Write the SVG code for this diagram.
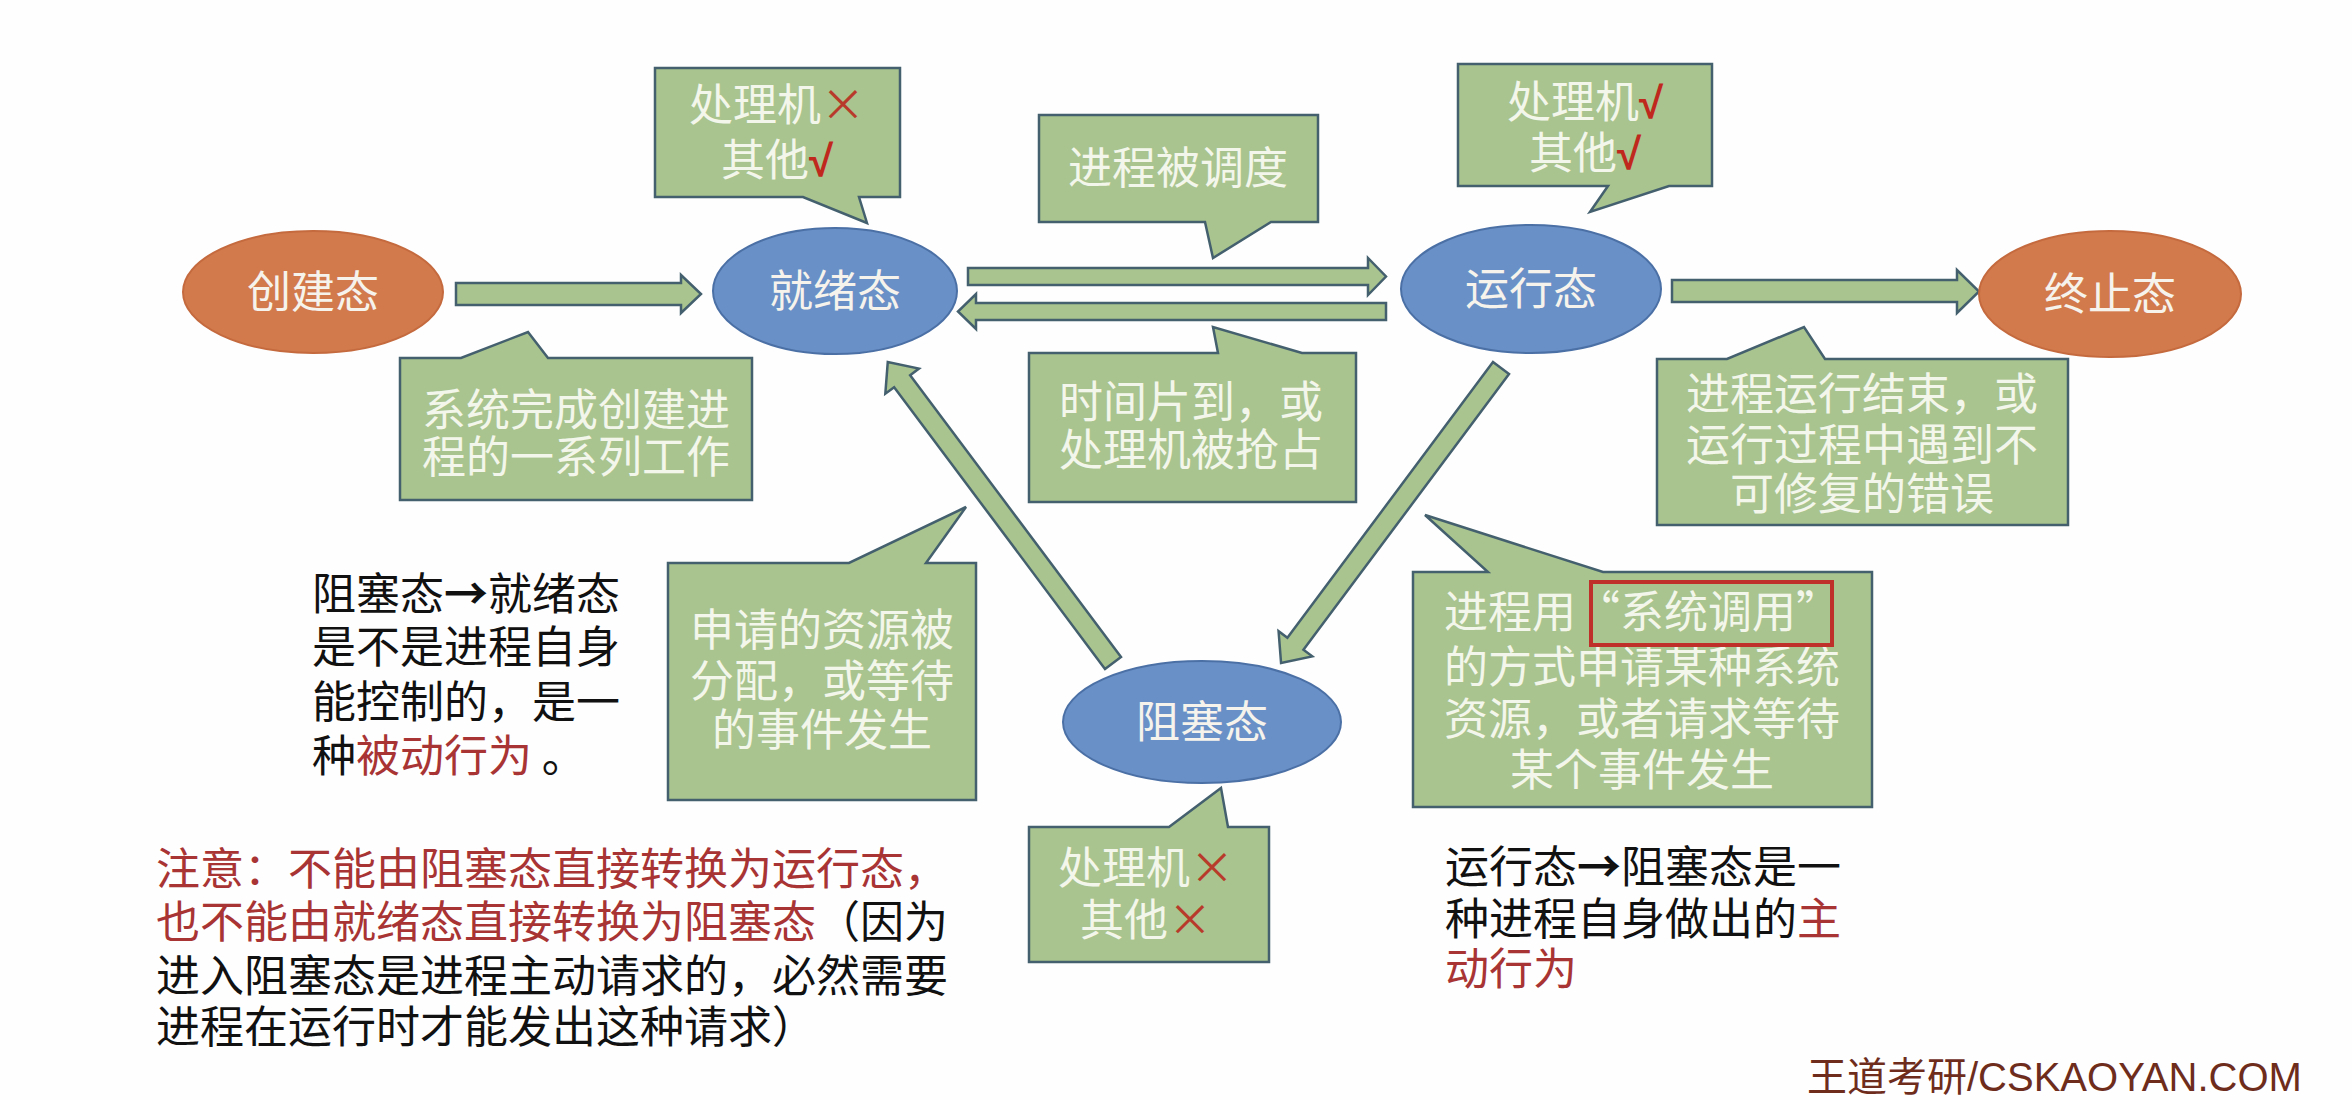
<svg xmlns="http://www.w3.org/2000/svg" width="2352" height="1100" viewBox="0 0 2352 1100">
<style>
.cjk{font-family:"Noto Sans CJK SC","Noto Sans CJK TC",sans-serif;font-size:44px}
.call{fill:#a9c48e;stroke:#44606e;stroke-width:2.5;stroke-linejoin:miter}
.ctext{fill:#f3f6ea;text-anchor:middle}
.arrow{fill:#a9c48e;stroke:#44606e;stroke-width:2.5;stroke-linejoin:miter}
.blue{fill:#6990c7;stroke:#4b70a6;stroke-width:2}
.orange{fill:#d27a4c;stroke:#c46a3e;stroke-width:2}
.ntext{fill:#f6f3ec;text-anchor:middle}
.red{fill:#a93434}
.mark{fill:#b83a2a}
.tick{fill:#c0281e;font-family:"Liberation Sans",sans-serif;font-weight:bold}
.black{fill:#111111}
.bar{font-weight:bold}
</style>
<rect x="0" y="0" width="2352" height="1100" fill="#fefefe"/>

<g id="connectors">
  <path class="arrow" d="M456,283 H681 V275 L701,294 L681,313 V305 H456 Z"/>
  <path class="arrow" d="M968,268 H1368 V258 L1386,276.5 L1368,295 V285 H968 Z"/>
  <path class="arrow" d="M1386,303 H976 V294 L958,311.5 L976,329 V320 H1386 Z"/>
  <path class="arrow" d="M1672,280 H1957 V270 L1979,291.5 L1957,313 V302 H1672 Z"/>
  <path class="arrow" transform="translate(1501,368) rotate(126.7)" d="M0,-10 H344 V-21 L368,0 L344,21 V10 H0 Z"/>
  <path class="arrow" transform="translate(1113,663) rotate(-126.8)" d="M0,-10 H352 V-21 L376,0 L352,21 V10 H0 Z"/>
</g>

<g id="node-create">
  <ellipse class="orange" cx="313" cy="292" rx="130" ry="61"/>
  <text class="cjk ntext" x="313" y="308">创建态</text>
</g>
<g id="node-ready">
  <ellipse class="blue" cx="835" cy="291" rx="122" ry="63"/>
  <text class="cjk ntext" x="835" y="307">就绪态</text>
</g>
<g id="node-running">
  <ellipse class="blue" cx="1531" cy="289" rx="130" ry="64"/>
  <text class="cjk ntext" x="1531" y="305">运行态</text>
</g>
<g id="node-terminated">
  <ellipse class="orange" cx="2110" cy="294" rx="131" ry="63"/>
  <text class="cjk ntext" x="2110" y="310">终止态</text>
</g>
<g id="node-blocked">
  <ellipse class="blue" cx="1202" cy="722" rx="139" ry="61"/>
  <text class="cjk ntext" x="1202" y="738">阻塞态</text>
</g>

<g id="callout-ready-resources">
  <path class="call" d="M655,68 H900 V197 H859 L867,223 L803,197 H655 Z"/>
  <text class="cjk ctext" x="777" y="121">处理机<tspan class="mark">×</tspan></text>
  <text class="cjk ctext" x="777" y="176">其他<tspan class="tick">√</tspan></text>
</g>
<g id="callout-dispatch">
  <path class="call" d="M1039,115 H1318 V222 H1271 L1213,258 L1205,222 H1039 Z"/>
  <text class="cjk ctext" x="1178" y="184">进程被调度</text>
</g>
<g id="callout-running-resources">
  <path class="call" d="M1458,64 H1712 V186 H1669 L1590,212 L1608,186 H1458 Z"/>
  <text class="cjk ctext" x="1585" y="118">处理机<tspan class="tick">√</tspan></text>
  <text class="cjk ctext" x="1585" y="169">其他<tspan class="tick">√</tspan></text>
</g>
<g id="callout-create-done">
  <path class="call" d="M400,358 H461 L528,332 L548,358 H752 V500 H400 Z"/>
  <text class="cjk ctext" x="576" y="426">系统完成创建进</text>
  <text class="cjk ctext" x="576" y="473">程的一系列工作</text>
</g>
<g id="callout-timeslice">
  <path class="call" d="M1029,353 H1218 L1213,327 L1302,353 H1356 V502 H1029 Z"/>
  <text class="cjk ctext" x="1191" y="418">时间片到，或</text>
  <text class="cjk ctext" x="1191" y="466">处理机被抢占</text>
</g>
<g id="callout-exit">
  <path class="call" d="M1657,359 H1727 L1804,327 L1825,359 H2068 V525 H1657 Z"/>
  <text class="cjk ctext" x="1862" y="410">进程运行结束，或</text>
  <text class="cjk ctext" x="1862" y="461">运行过程中遇到不</text>
  <text class="cjk ctext" x="1862" y="510">可修复的错误</text>
</g>
<g id="callout-wakeup">
  <path class="call" d="M668,563 H849 L966,507 L926,563 H976 V800 H668 Z"/>
  <text class="cjk ctext" x="822" y="646">申请的资源被</text>
  <text class="cjk ctext" x="822" y="697">分配，或等待</text>
  <text class="cjk ctext" x="822" y="746">的事件发生</text>
</g>
<g id="callout-block">
  <path class="call" d="M1413,572 H1488 L1425,515 L1603,572 H1872 V807 H1413 Z"/>
  <text class="cjk ctext" x="1642" y="628">进程用“系统调用”</text>
  <text class="cjk ctext" x="1642" y="683">的方式申请某种系统</text>
  <text class="cjk ctext" x="1642" y="735">资源，或者请求等待</text>
  <text class="cjk ctext" x="1642" y="786">某个事件发生</text>
  <rect x="1591" y="582" width="241" height="63" fill="none" stroke="#c0302a" stroke-width="4"/>
</g>
<g id="callout-blocked-resources">
  <path class="call" d="M1029,827 H1169 L1221,788 L1228,827 H1269 V962 H1029 Z"/>
  <text class="cjk ctext" x="1146" y="884">处理机<tspan class="mark">×</tspan></text>
  <text class="cjk ctext" x="1146" y="936">其他<tspan class="mark">×</tspan></text>
</g>

<g id="note-passive">
  <text class="cjk black" x="312" y="610">阻塞态<tspan class="bar">→</tspan>就绪态</text>
  <text class="cjk black" x="312" y="663">是不是进程自身</text>
  <text class="cjk black" x="312" y="718">能控制的，是一</text>
  <text class="cjk black" x="312" y="772">种<tspan class="red">被动行为</tspan> 。</text>
</g>
<g id="note-active">
  <text class="cjk black" x="1445" y="883">运行态<tspan class="bar">→</tspan>阻塞态是一</text>
  <text class="cjk black" x="1445" y="935">种进程自身做出的<tspan class="red">主</tspan></text>
  <text class="cjk red" x="1445" y="985">动行为</text>
</g>
<g id="note-warning">
  <text class="cjk red" x="156" y="885">注意：不能由阻塞态直接转换为运行态，</text>
  <text class="cjk red" x="156" y="938">也不能由就绪态直接转换为阻塞态<tspan class="black">（因为</tspan></text>
  <text class="cjk black" x="156" y="992">进入阻塞态是进程主动请求的，必然需要</text>
  <text class="cjk black" x="156" y="1043">进程在运行时才能发出这种请求）</text>
</g>

<text x="1807" y="1091" font-family="'Liberation Sans','Noto Sans CJK SC',sans-serif" font-size="40" fill="#6e2d1c">王道考研/CSKAOYAN.COM</text>
</svg>
